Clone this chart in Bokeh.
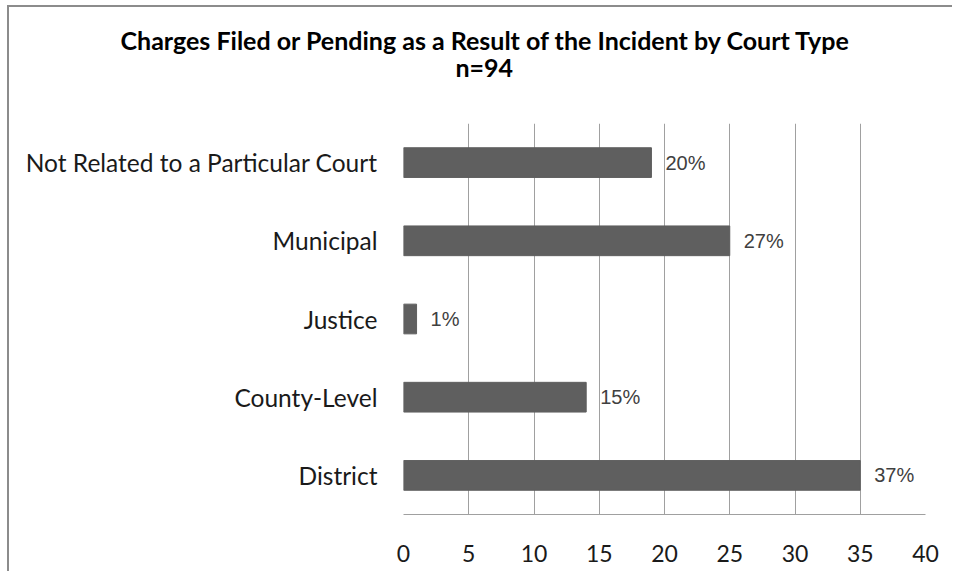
from bokeh.plotting import figure
from bokeh.models import ColumnDataSource, FixedTicker, Range1d, FactorRange, LabelSet, Title
from bokeh.core.properties import value
from bokeh.embed import file_html
from bokeh.resources import INLINE

title_line1 = "Charges Filed or Pending as a Result of the Incident by Court Type"
title_line2 = "n=94"
categories = ["Not Related to a Particular Court", "Municipal", "Justice", "County-Level", "District"]
counts = [19, 25, 1, 14, 35]
pct_labels = ["20%", "27%", "1%", "15%", "37%"]
x_ticks = [0, 5, 10, 15, 20, 25, 30, 35, 40]

src = ColumnDataSource(dict(cat=categories, val=counts, lab=pct_labels))

p = figure(width=945, height=566, output_backend="svg", toolbar_location=None,
           y_range=FactorRange(factors=list(reversed(categories))),
           x_range=Range1d(0, 40))
p.margin = (5, 0, 0, 7)
p.min_border_left = 394
p.min_border_right = 29
p.min_border_top = 116
p.min_border_bottom = 59
p.outline_line_color = None
p.background_fill_color = "white"
p.border_fill_color = "white"
p.styles = {"border-top": "2px solid #8c8c8c", "border-left": "2px solid #8c8c8c"}

p.hbar(y="cat", right="val", left=0, height=0.38, source=src,
       fill_color="#5f5f5f", line_color="#5f5f5f")

p.xaxis.ticker = FixedTicker(ticks=x_ticks)
p.xgrid.ticker = FixedTicker(ticks=x_ticks)
p.xgrid.grid_line_color = "#a0a0a0"
p.ygrid.grid_line_color = None
p.xaxis.axis_line_color = "#a0a0a0"
p.xaxis.major_tick_line_color = None
p.xaxis.minor_tick_line_color = None
p.xaxis.major_label_text_font = "Lato"
p.xaxis.major_label_text_font_size = "23px"
p.xaxis.major_label_text_color = "#1a1a1a"
p.xaxis.major_label_standoff = 24
p.yaxis.axis_line_color = None
p.yaxis.major_tick_line_color = None
p.yaxis.minor_tick_line_color = None
p.yaxis.major_label_text_font = "Lato"
p.yaxis.major_label_text_font_size = "24.5px"
p.yaxis.major_label_text_color = "#1a1a1a"
p.yaxis.major_label_standoff = 20

labels = LabelSet(x="val", y="cat", text="lab", source=src, x_offset=14,
                  text_baseline="middle", text_align="left",
                  text_font=value("Liberation Sans"), text_font_size=value("20px"),
                  text_color="#404040", background_fill_color="white")
p.add_layout(labels)

# spacer between plot area and subtitle
p.add_layout(Title(text=" ", text_font_size="1px", standoff=39), "above")
p.add_layout(Title(text=title_line2, align="left", offset=52, text_font="Lato",
                   text_font_style="bold", text_font_size="25px", text_color="#000000",
                   standoff=0), "above")
p.add_layout(Title(text=title_line1, align="left", offset=-283, text_font="Lato",
                   text_font_style="bold", text_font_size="25px", text_color="#000000",
                   standoff=-11), "above")

open("out.html", "w").write(file_html(p, INLINE))
